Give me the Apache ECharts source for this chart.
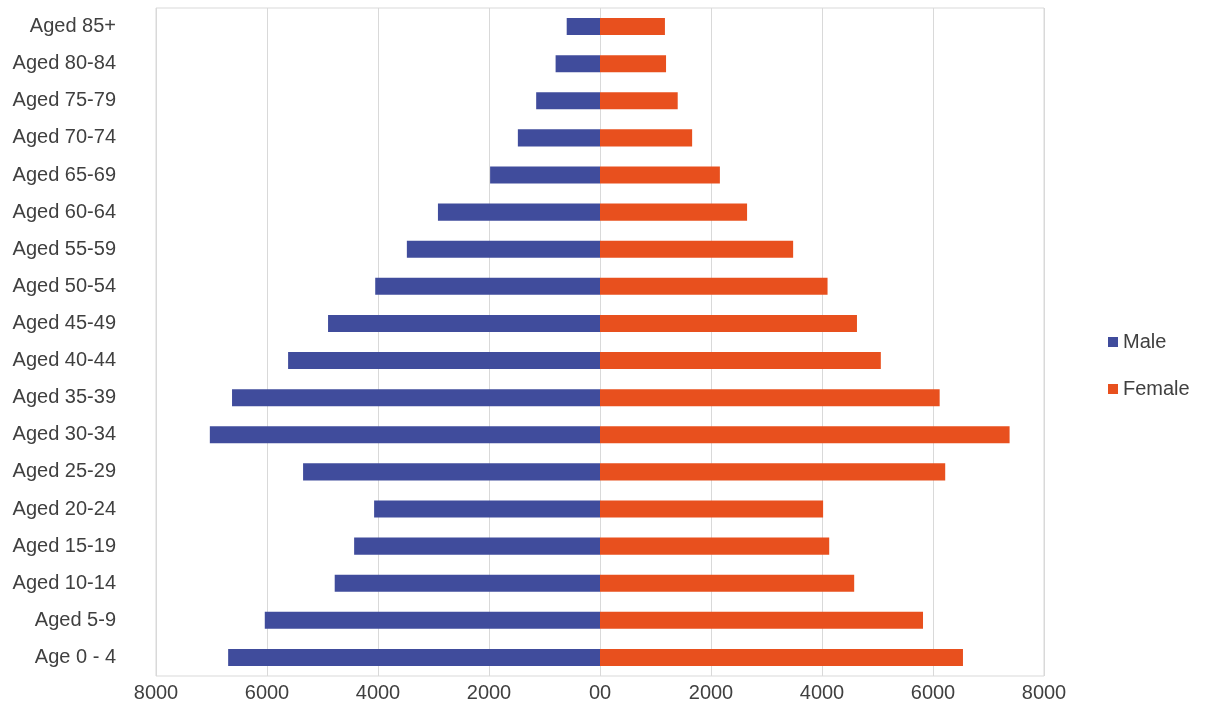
<!DOCTYPE html>
<html>
<head>
<meta charset="utf-8">
<script src="https://cdn.jsdelivr.net/npm/echarts@6/dist/echarts.min.js"></script>
<style>html,body{margin:0;padding:0;background:#fff;}#c{width:1211px;height:724px;}</style>
</head>
<body>
<div id="c"></div>
<script>
const categories = ["Age 0 - 4","Aged 5-9","Aged 10-14","Aged 15-19","Aged 20-24","Aged 25-29","Aged 30-34","Aged 35-39","Aged 40-44","Aged 45-49","Aged 50-54","Aged 55-59","Aged 60-64","Aged 65-69","Aged 70-74","Aged 75-79","Aged 80-84","Aged 85+"];
const male = [6700,6040,4780,4430,4070,5350,7030,6630,5620,4900,4050,3480,2920,1980,1480,1150,800,600];
const female = [6540,5820,4580,4130,4020,6220,7380,6120,5060,4630,4100,3480,2650,2160,1660,1400,1190,1170];
const xTicks = [-8000,-6000,-4000,-2000,0,2000,4000,6000,8000];

const font = '"Liberation Sans",sans-serif';
const chart = echarts.init(document.getElementById('c'));
chart.setOption({
  animation: false,
  textStyle: {fontFamily: font},
  grid: {left: 156, right: 167, top: 8, bottom: 48, show: true, borderColor: '#d9d9d9', borderWidth: 1},
  legend: {
    orient: 'vertical', left: 1103, top: 327, itemGap: 27,
    icon: 'rect', itemWidth: 10, itemHeight: 10,
    textStyle: {fontSize: 20, color: '#404040', fontFamily: font},
    data: ['Male','Female']
  },
  xAxis: {
    type: 'value', min: xTicks[0], max: xTicks[xTicks.length-1], interval: 2000,
    axisLine: {show: false}, axisTick: {show: false},
    splitLine: {lineStyle: {color: '#d9d9d9'}},
    axisLabel: {fontSize: 20, color: '#404040', margin: 7,
      formatter: v => v === 0 ? '00' : String(Math.abs(v))}
  },
  yAxis: {
    type: 'category', data: categories,
    axisLine: {show: false}, axisTick: {show: false},
    axisLabel: {fontSize: 20, color: '#404040', margin: 40}
  },
  series: [
    {name: 'Male', type: 'bar', stack: 'pop', barWidth: '46%', data: male.map(v => -v), itemStyle: {color: '#404c9c'}},
    {name: 'Female', type: 'bar', stack: 'pop', barWidth: '46%', data: female, itemStyle: {color: '#e8501e'}}
  ]
});
</script>
</body>
</html>
